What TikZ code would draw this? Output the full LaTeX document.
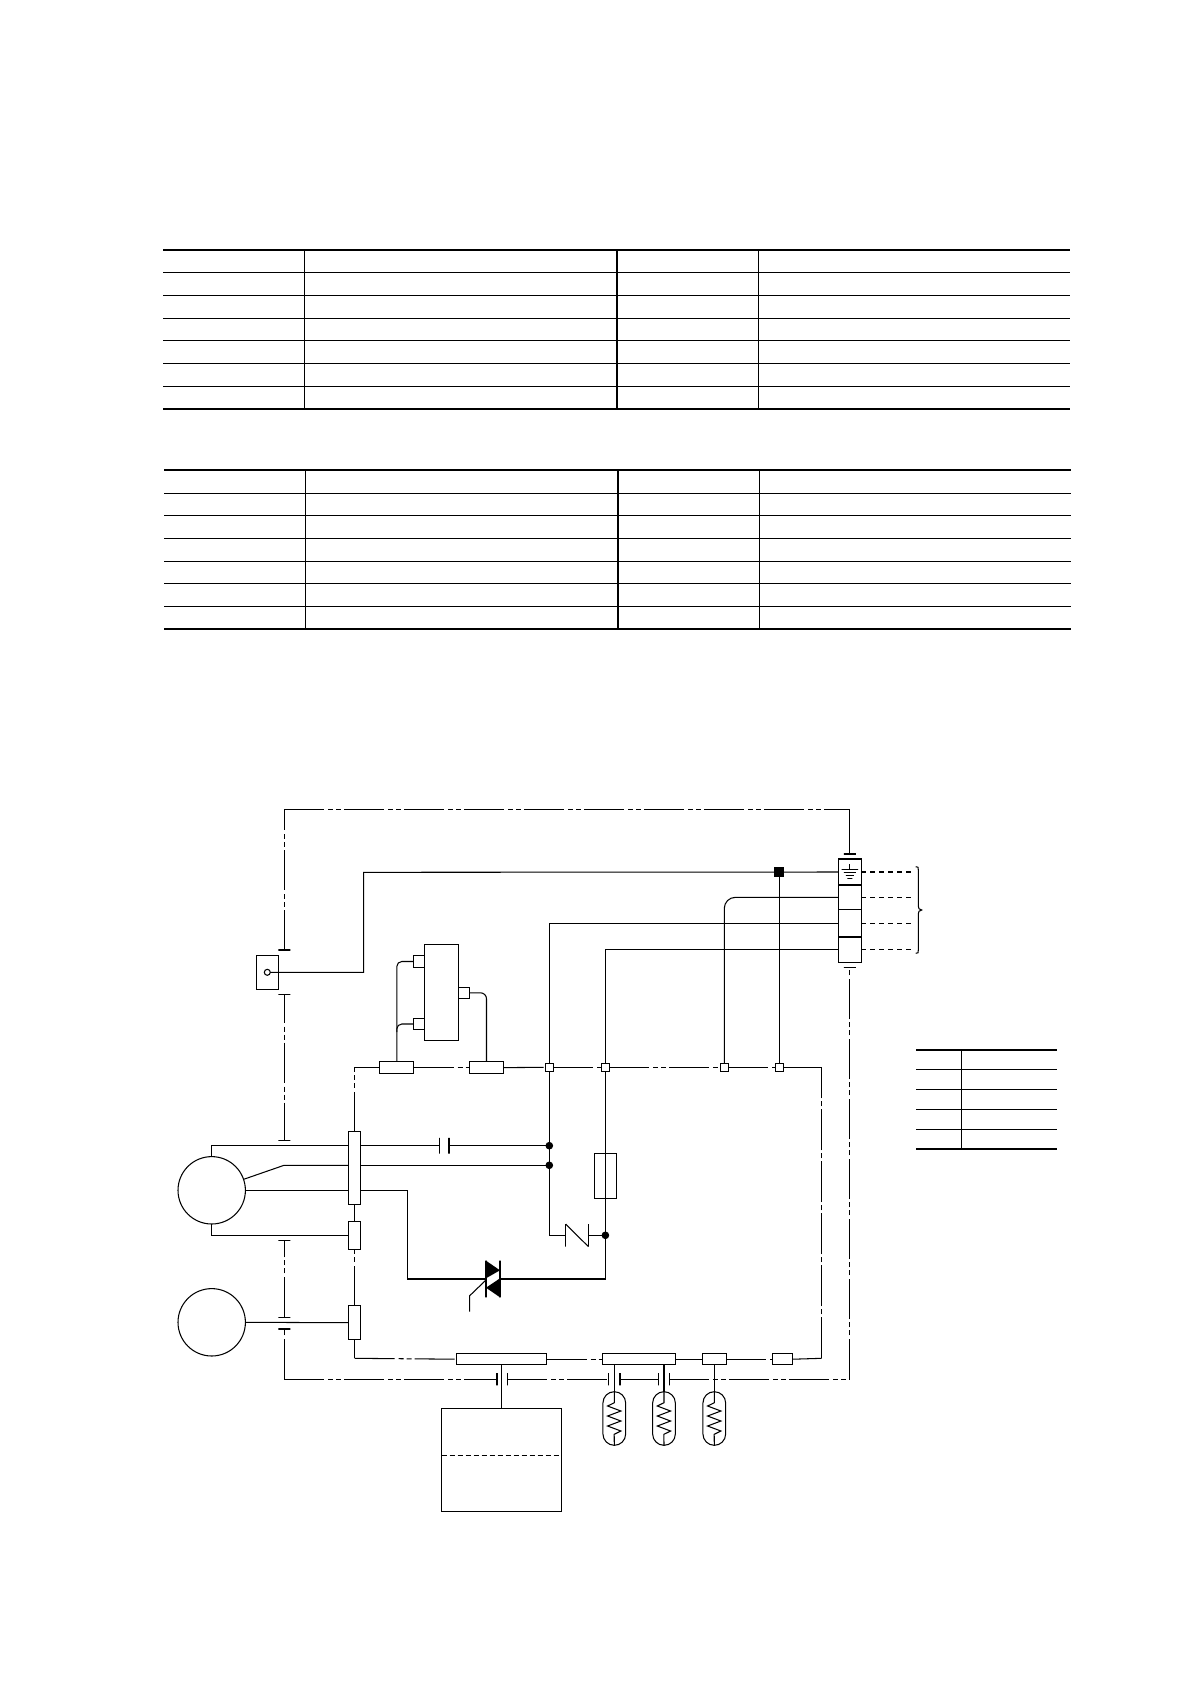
\documentclass[tikz,border=0pt]{standalone}
\usepackage{tikz}

\begin{document}
\begin{tikzpicture}[x=1pt, y=-1pt, line width=1.05pt]
\tikzstyle{every node} = [rectangle, draw, inner sep=0pt, outer sep=0pt]
\tikzstyle{dashdot} = [dash pattern=on 40pt off 4pt on 5pt off 3pt on 5pt off 3pt]
\tikzstyle{dashloop} = [dash pattern=on 41pt off 3pt on 5pt off 3pt]
\tikzstyle{vplate} = [minimum width=0pt]
\tikzstyle{hplate} = [minimum height=0pt, minimum width=12pt]
\tikzstyle{jbox} = [minimum size=8pt, fill=white]
\tikzstyle{jdot} = [circle, minimum size=6.5pt, fill=black]
\tikzstyle{capsule} = [rounded corners=11.3pt, minimum width=22.7pt, minimum height=53.6pt]
\useasboundingbox (0,0) rectangle (1190,1684);

% tables
\foreach \y in {272.3,295.3,318.3,340.3,363.3,386.3} \draw (163,\y) -- (1070,\y);
\foreach \y in {250,409} \draw [line width=2pt] (163,\y) -- (1070,\y);
\draw (304.7,250) -- (304.7,409);
\draw (758.7,250) -- (758.7,409);
\draw [line width=2pt] (616.8,250) -- (616.8,409);

\foreach \y in {493.3,515.3,538.3,561.3,583.3,606.3} \draw (164,\y) -- (1071,\y);
\foreach \y in {469.7,628.7} \draw [line width=2pt] (164,\y) -- (1071,\y);
\draw (305.4,469.7) -- (305.4,628.7);
\draw (759.7,469.7) -- (759.7,628.7);
\draw [line width=2pt] (618,469.7) -- (618,628.7);

\foreach \y in {1069.7,1089.7,1109.3,1129.2} \draw (916,\y) -- (1057,\y);
\foreach \y in {1050,1148.7} \draw [line width=1.8pt] (916,\y) -- (1057,\y);
\draw (961.3,1050) -- (961.3,1148.7);

% motors and sensor
\node [circle, minimum size=67.4pt] (m1) at (211.7,1190.3) {};
\node [circle, minimum size=67.4pt] (m2) at (211.7,1322.3) {};
\node [minimum width=22.4pt, minimum height=33.7pt] (sn) at (267.5,972.2) {};
\node [circle, minimum size=6pt] (sc) at (267.3,972.3) {};

% terminal block
\node [minimum width=23pt, minimum height=26pt] (tm1) at (849.8,872) {};
\node [minimum width=23pt, minimum height=24.7pt] (tm2) at (849.8,897.35) {};
\node [minimum width=23pt, minimum height=27.3pt] (tm3) at (849.8,923.35) {};
\node [minimum width=23pt, minimum height=25.3pt] (tm4) at (849.8,949.65) {};
\foreach \n/\w/\y in {gb1/16.6/869.2, gb2/12/872.3, gb3/8/875.4, gb4/5/878.2}
  \node [hplate, minimum width=\w pt, line width=.8pt] (\n) at (849.8,\y) {};
\coordinate (gt) at (849.8,864);
\draw [line width=.8pt] (gt) -- (gb1.center);

% the connectors on the board
\node [minimum width=11.3pt, minimum height=73pt] (a) at (354.6,1168.2) {};
\node [minimum width=11.3pt, minimum height=28pt] (b) at (354.6,1235.3) {};
\node [minimum width=11.3pt, minimum height=34pt] (c) at (354.6,1322.7) {};
\node [minimum width=33.7pt, minimum height=11.3pt] (h) at (396.8,1067.6) {};
\node [minimum width=34.4pt, minimum height=11.3pt] (i) at (486.5,1067.6) {};
\node [minimum width=90.4pt, minimum height=11pt] (d) at (501.5,1359.2) {};
\node [minimum width=72.7pt, minimum height=11pt] (e) at (639.3,1359.2) {};
\node [minimum width=23.3pt, minimum height=11pt] (f) at (714.6,1359.2) {};
\node [minimum width=20.7pt, minimum height=11pt] (g) at (782.6,1359.2) {};
\node [jbox] (sq1) at (549.3,1067.3) {};
\node [jbox] (sq2) at (605.4,1067.3) {};
\node [jbox] (sq3) at (724.3,1067.3) {};
\node [jbox] (sq4) at (779.3,1067.3) {};
\node [minimum size=9pt, fill=black] (bs) at (779.3,872.3) {};
\node [jdot] (dot1) at (549.3,1145.7) {};
\node [jdot] (dot2) at (549.3,1165.3) {};
\node [jdot] (dot3) at (605.4,1235.3) {};

% relay with its pins
\node [minimum width=33.6pt, minimum height=96.4pt] (u) at (441.5,992.5) {};
\node [minimum size=11.4pt] (ul1) at (419,961.5) {};
\node [minimum size=11.4pt] (ul2) at (419,1024) {};
\node [minimum size=11.4pt] (ur) at (464,992.8) {};

% fuse, contact, capacitor
\node [minimum width=22.3pt, minimum height=45.3pt] (fu) at (605.4,1176.3) {};
\node [vplate, minimum height=22.4pt] (cta) at (565.7,1235.3) {};
\node [vplate, minimum height=22.4pt] (ctb) at (588.3,1235.3) {};
\node [vplate, minimum height=15.7pt] (cpa) at (439.7,1145.7) {};
\node [vplate, minimum height=15.7pt] (cpb) at (449,1145.7) {};

% triac
\node [vplate, minimum height=36.6pt] (trl) at (486,1279) {};
\node [vplate, minimum height=36.6pt] (trr) at (500,1279) {};
\fill (486,1260.7) -- (500,1270.3) -- (486,1278.3) -- cycle;
\fill (500,1278.3) -- (486,1287.7) -- (500,1297.3) -- cycle;
\draw (486,1280) -- (469.7,1295.7) -- (469.7,1311.7);

% ticks where the shield is broken
\node [hplate] (tk1) at (284.4,950) {};
\node [hplate] (tk2) at (849.8,854) {};
\node [hplate] (tk3) at (284.4,994.7) {};
\node [hplate] (tk4) at (284.4,1140.7) {};
\node [hplate] (tk5) at (284.4,1240.3) {};
\node [hplate] (tk6) at (284.4,1317.3) {};
\node [hplate] (tk7) at (284.4,1329) {};
\node [hplate] (tk8) at (849.8,967.7) {};
\foreach \n/\x in {cp2/497, cp3/507.3, cp4/608.7, cp5/620, cp6/658.7, cp7/669.3}
  \node [vplate, minimum height=12.3pt] (\n) at (\x,1379.3) {};

% box below and thermistors
\node [minimum width=119.6pt, minimum height=102.7pt] (bx) at (501.5,1460.3) {};
\coordinate (bm) at (501.5,1455.3);
\draw [dash pattern=on 5pt off 3pt] (bx.west |- bm) -- (bx.east |- bm);
\foreach \n/\x in {ta/614.3, tb/664, tc/714.3} {
  \node [capsule] (\n) at (\x,1418.5) {};
  \draw (\n.north) -- ++(0,11) -- ++(-6.7,3.3) -- ++(13.3,5) -- ++(-13.3,5) -- ++(13.3,5) -- ++(-13.3,5) -- ++(13.3,5) -- ++(-6.7,3.3) -- (\n.south);
}

% corners
\coordinate (c1) at (821.7,1067.3);
\coordinate (c2) at (821.7,1358.3);
\coordinate (c3) at (354.6,1358.3);
\coordinate (c6) at (284.4,809.3);
\coordinate (c7) at (849.8,809.3);
\coordinate (c8) at (284.4,1379.3);
\coordinate (c9) at (849.8,1379.3);
\coordinate (k1) at (284,1165.3);
\coordinate (k2) at (407.3,1190.3);
\coordinate (k4) at (363.7,872.3);
\coordinate (j1) at (396.8,1032);
\coordinate (ex) at (911.7,872);

% shield
\draw [dashdot] (c6) -- (c7);
\draw (c7) -- (tk2.center);
\draw [dashdot, dash phase=19pt] (c6) -- (tk1.center);
\draw [dashdot, dash phase=12pt] (tk3.center) -- (tk4.center);
\draw [dashdot] (tk6.center) -- (tk5.center);
\draw [dashdot] (c8) -- (tk7.center);
\draw [dashdot] (c8) -- (cp2.center);
\draw [dashdot] (cp3.center) -- (cp4.center);
\draw [dashdot] (cp5.center) -- (cp6.center);
\draw [dashdot] (cp7.center) -- (c9);
\draw [dashdot] (c9) -- (tk8.center);

% power wires
\draw (sc.east) -| (k4) -- (tm1.west);
\draw (bs) -- (sq4);
\draw [rounded corners=11pt] (tm2.west) -| (sq3.north);
\draw (tm3.west) -| (sq1.north);
\draw (tm4.west) -| (sq2.north);
\foreach \n in {1,2,3,4}
  \draw [dash pattern=on 5pt off 4pt] (tm\n.east) -- (ex |- tm\n.east);

% loop on the board
\draw [dashdot] (a.north) |- (h.west);
\draw [dashdot] (h.east) -- (i.west);
\draw [dashdot] (i.east) -- (sq1);
\draw [dashdot] (sq1) -- (sq2);
\draw [dashdot] (sq2) -- (sq3);
\draw [dashdot] (sq3) -- (sq4);
\draw (sq4) -- (c1);
\draw [dashloop] (c2) -- (c1);
\draw (g.east) -- (c2);
\draw [dashdot] (f.east) -- (g.west);
\draw (e.east) -- (f.west);
\draw [dashdot] (d.east) -- (e.west);
\draw [dashdot] (c3) -- (d.west);
\draw (c.south) -- (c3);
\draw [dashdot] (c.north) -- (b.south);
\draw (a.south) -- (b.north);

% relay wires
\draw [rounded corners=5pt] (h.north) |- (ul1.west);
\draw [rounded corners=5pt] (j1) |- (ul2.west);
\draw [rounded corners=6pt] (ur.east) -| (i.north);

% motor wires
\draw (m1.north) |- (a.west |- dot1);
\draw (m1.19) -- (k1) -- (a.west |- dot2);
\draw (m1.east) -- (a.west |- m1.east);
\draw (m1.south) |- (b.west);
\draw (m2.east) -- (c.west);
\draw (a.east |- dot1) -- (cpa.center);
\draw (cpb.center) -- (dot1);
\draw (a.east |- dot2) -- (dot2);
\draw (a.east |- m1.east) -- (k2) |- (trl.center);
\draw (trr.center) -| (dot3);
\draw (sq2) -- (dot3);
\draw (sq1) |- (cta.center);
\draw (cta.north) -- (ctb.south);
\draw (ctb.center) -- (dot3);

% lower wires
\draw (d.south) -- (bx.north);
\draw (e.south -| ta) -- (ta.north);
\draw (e.south -| tb) -- (tb.north);
\draw (f.south -| tc) -- (tc.north);

% brace
\draw (915.7,866.7) .. controls (918.3,866.7) and (918.3,867) .. (918.3,870) -- (918.3,906) .. controls (918.3,908) and (919,910) .. (921.7,910) .. controls (919,910) and (918.3,912) .. (918.3,914) -- (918.3,950) .. controls (918.3,953) and (918.3,953.3) .. (915.7,953.3);
\end{tikzpicture}
\end{document}
